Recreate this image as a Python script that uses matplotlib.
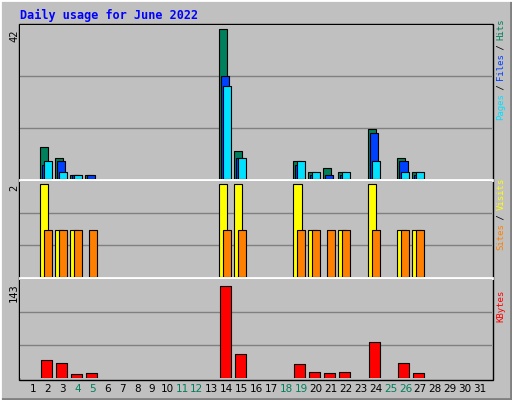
import matplotlib
matplotlib.use("Agg")
import matplotlib.pyplot as plt
from matplotlib.patches import Rectangle

days = list(range(1, 31 + 1))
hits  = [0,9,6,1,1,0,0,0,0,0,0,0,0,42,8,0,0,0,5,2,3,2,0,14,0,6,2,0,0,0,0]
files = [0,4,5,1,1,0,0,0,0,0,0,0,0,29,6,0,0,0,4,1,1,1,0,13,0,5,1,0,0,0,0]
pages = [0,5,2,1,0,0,0,0,0,0,0,0,0,26,6,0,0,0,5,2,0,2,0,5,0,2,2,0,0,0,0]
visits= [0,2,1,1,0,0,0,0,0,0,0,0,0,2,2,0,0,0,2,1,0,1,0,2,0,1,1,0,0,0,0]
sites = [0,1,1,1,1,0,0,0,0,0,0,0,0,1,1,0,0,0,1,1,1,1,0,1,0,1,1,0,0,0,0]
kbytes= [0,28,23,6,8,0,0,0,0,0,0,0,0,143,37,0,0,0,22,9,8,9,0,56,0,23,8,0,0,0,0]
weekend = [4,5,11,12,18,19,25,26]

W, H = 512, 400
XA, XB = 0.128, 31.81
fig = plt.figure(figsize=(W/100, H/100), dpi=100)
fig.patch.set_facecolor('#c0c0c0')
bg = fig.add_axes([0, 0, 1, 1]); bg.set_xlim(0, W); bg.set_ylim(H, 0); bg.axis('off')
bg.plot([0, W-1, W-1], [H-1, H-1, 0], color='#808080', lw=2)
bg.plot([0, 0, W], [H, 0, 0], color='white', lw=2)
bg.add_patch(Rectangle((19, 24), 474, 356, fill=False, ec='black', lw=1))
mono = 'DejaVu Sans Mono'
fig.text(20/W, 1-15/H, 'Daily usage for June 2022', color='#0000ff', fontsize=8.5,
         fontweight='bold', family=mono, va='center')

def px_axes(x0, y0, x1, y1):
    ax = fig.add_axes([x0/W, 1-y1/H, (x1-x0)/W, (y1-y0)/H])
    ax.set_facecolor('#c0c0c0')
    ax.set_xlim(XA, XB)
    for s in ax.spines.values():
        s.set_visible(False)
    ax.set_xticks([]); ax.set_yticks([])
    return ax

def grid(ax, top):
    for f in (1/3, 2/3):
        ax.axhline(top*f, color='#808080', lw=1, zorder=0)

def bars(ax, vals, off, width, color):
    for d, v in zip(days, vals):
        if v > 0:
            ax.bar(d+off, v, width=width, align='edge', color=color, ec='black', lw=0.8, zorder=3)

ax1 = px_axes(20, 25, 492, 179)
ax1.set_ylim(0, 42*1.03)
grid(ax1, 42*1.03)
bars(ax1, hits, -0.54, 0.54, '#00805c')
bars(ax1, files, -0.4, 0.54, '#0040ff')
bars(ax1, pages, -0.27, 0.54, '#00e0ff')

ax2 = px_axes(20, 181, 492, 277)
ax2.set_ylim(0, 2*1.03)
grid(ax2, 2*1.03)
bars(ax2, visits, -0.54, 0.58, '#ffff00')
bars(ax2, sites, -0.27, 0.54, '#ff8000')

ax3 = px_axes(20, 279, 492, 378)
ax3.set_ylim(0, 143*1.08)
grid(ax3, 143*1.08)
bars(ax3, kbytes, -0.47, 0.74, '#ff0000')

for y in (180, 278):
    bg.plot([20, 492], [y, y], color='white', lw=2)

for d in days:
    x = 20 + (d - XA) / (XB - XA) * 472
    fig.text(x/W, 1-389/H, str(d), ha='center', va='center', fontsize=7.5, family='DejaVu Sans',
             color='#00805c' if d in weekend else 'black')

for y, lab in ((30, '42'), (185, '2'), (283, '143')):
    fig.text(14/W, 1-y/H, lab, rotation=90, ha='center', va='top', fontsize=7.5, family=mono)

def rlabel(ybottom, parts, step=5.0):
    y = ybottom
    for txt, col in parts:
        fig.text(501/W, 1-y/H, txt, rotation=90, ha='center', va='bottom', fontsize=6.5,
                 family=mono, color=col)
        y -= len(txt) * step
rlabel(120, [('Pages', '#00e0ff'), (' / ', '#000000'), ('Files', '#0040ff'), (' / ', '#000000'), ('Hits', '#00805c')])
rlabel(250, [('Sites', '#ff8000'), (' / ', '#000000'), ('Visits', '#ffff00')])
rlabel(322, [('KBytes', '#ff0000')])

fig.savefig('out.png', dpi=100, facecolor=fig.get_facecolor())
